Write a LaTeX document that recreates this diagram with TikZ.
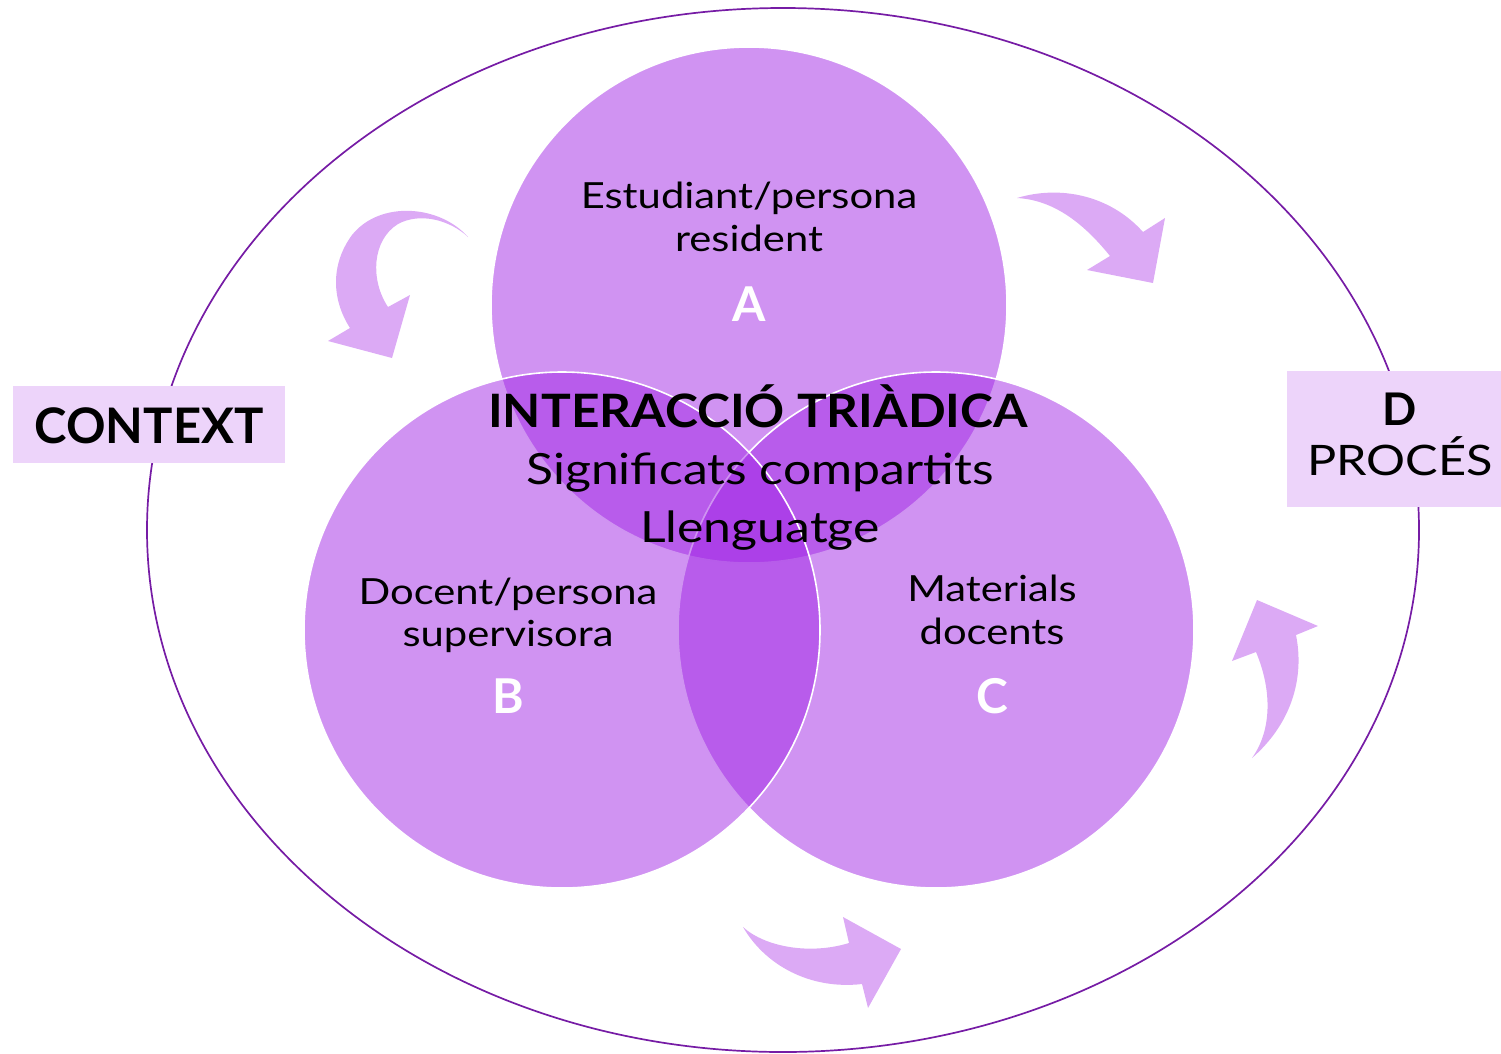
\documentclass[tikz,border=0pt]{standalone}
\usepackage{fontspec}
\setmainfont{Lato}
\newfontfamily\regw{Lato}[FakeStretch=1.16]
\newfontfamily\boldw{Lato}[FakeStretch=1.08]
\definecolor{venn}{RGB}{159,35,228}
\definecolor{ring}{RGB}{118,28,165}
\definecolor{arrowc}{RGB}{220,170,245}
\definecolor{boxc}{RGB}{237,212,250}
\begin{document}
\begin{tikzpicture}[x=1pt,y=-1pt,
  circ/.style={circle,minimum size=516pt,inner sep=0pt,fill=venn,fill opacity=0.49,draw=white,line width=1.6pt},
  bluk/.style={fill=arrowc,draw=none},
  lbl/.style={anchor=base,inner sep=0pt,text=black},
  big/.style={font=\bfseries\fontsize{48}{50}\selectfont,text=white,anchor=base,inner sep=0pt},
  tag/.style={fill=boxc,inner sep=0pt}]
\useasboundingbox (0,0) rectangle (1501,1053);
\draw[ring,line width=1.7pt] (783,530) ellipse [x radius=636pt, y radius=522pt];
% circles
\node[circ] (A) at (749,305) {};
\node[circ] (C) at (936,630) {};
\node[circ] (B) at (562,630) {};
% arrows
\path[bluk] (468,237) .. controls (440,205) and (380,200) .. (352,235) .. controls (330,265) and (332,300) .. (350,328) -- (328,341) -- (392,358) -- (410,295) -- (388,307) .. controls (370,280) and (372,240) .. (398,224) .. controls (420,212) and (450,220) .. (468,237) -- cycle;
\path[bluk] (1017,198) .. controls (1060,185) and (1110,195) .. (1143,232) -- (1165,218) -- (1153,283) -- (1087,270) -- (1110,256) .. controls (1085,225) and (1055,200) .. (1017,198) -- cycle;
\path[bluk] (1252,758) .. controls (1290,725) and (1305,680) .. (1296,635) -- (1318,626) -- (1257,600) -- (1232,661) -- (1256,652) .. controls (1272,690) and (1272,730) .. (1252,758) -- cycle;
\path[bluk] (743,927) .. controls (765,947) and (810,955) .. (849,943) -- (843,917) -- (901,949) -- (868,1008) -- (862,984) .. controls (810,990) and (765,965) .. (743,927) -- cycle;
% boxes
\path[tag] (13,386) rectangle (285,463);
\path[tag] (1287,371) rectangle (1501,507);
\node[lbl,font=\bfseries\fontsize{49}{50}\selectfont] (ctx) at (149,443) {CONTEXT};
\node[lbl,font=\bfseries\fontsize{45}{50}\selectfont] (dl) at (1400,425) {D};
\node[lbl,font=\regw\fontsize{42}{50}\selectfont] (proc) at (1400,475) {PROCÉS};
% texts in circles
\node[lbl,font=\regw\fontsize{36}{40}\selectfont] (a1) at (749,208) {Estudiant/persona};
\node[lbl,font=\regw\fontsize{36}{40}\selectfont] (a2) at (749,251) {resident};
\node[big] (aL) at (749,321) {A};
\node[lbl,font=\regw\fontsize{36}{40}\selectfont] (b1) at (508,604) {Docent/persona};
\node[lbl,font=\regw\fontsize{36}{40}\selectfont] (b2) at (508,646) {supervisora};
\node[big] (bL) at (508,713) {B};
\node[lbl,font=\regw\fontsize{36}{40}\selectfont] (c1) at (992,601) {Materials};
\node[lbl,font=\regw\fontsize{36}{40}\selectfont] (c2) at (992,644) {docents};
\node[big] (cL) at (992,713) {C};
\node[lbl,font=\boldw\bfseries\fontsize{46}{50}\selectfont] (t1) at (758,427) {INTERACCIÓ TRIÀDICA};
\node[lbl,font=\regw\fontsize{43}{50}\selectfont] (t2) at (760,484) {Significats compartits};
\node[lbl,font=\regw\fontsize{43}{50}\selectfont] (t3) at (760,542) {Llenguatge};
\end{tikzpicture}
\end{document}
